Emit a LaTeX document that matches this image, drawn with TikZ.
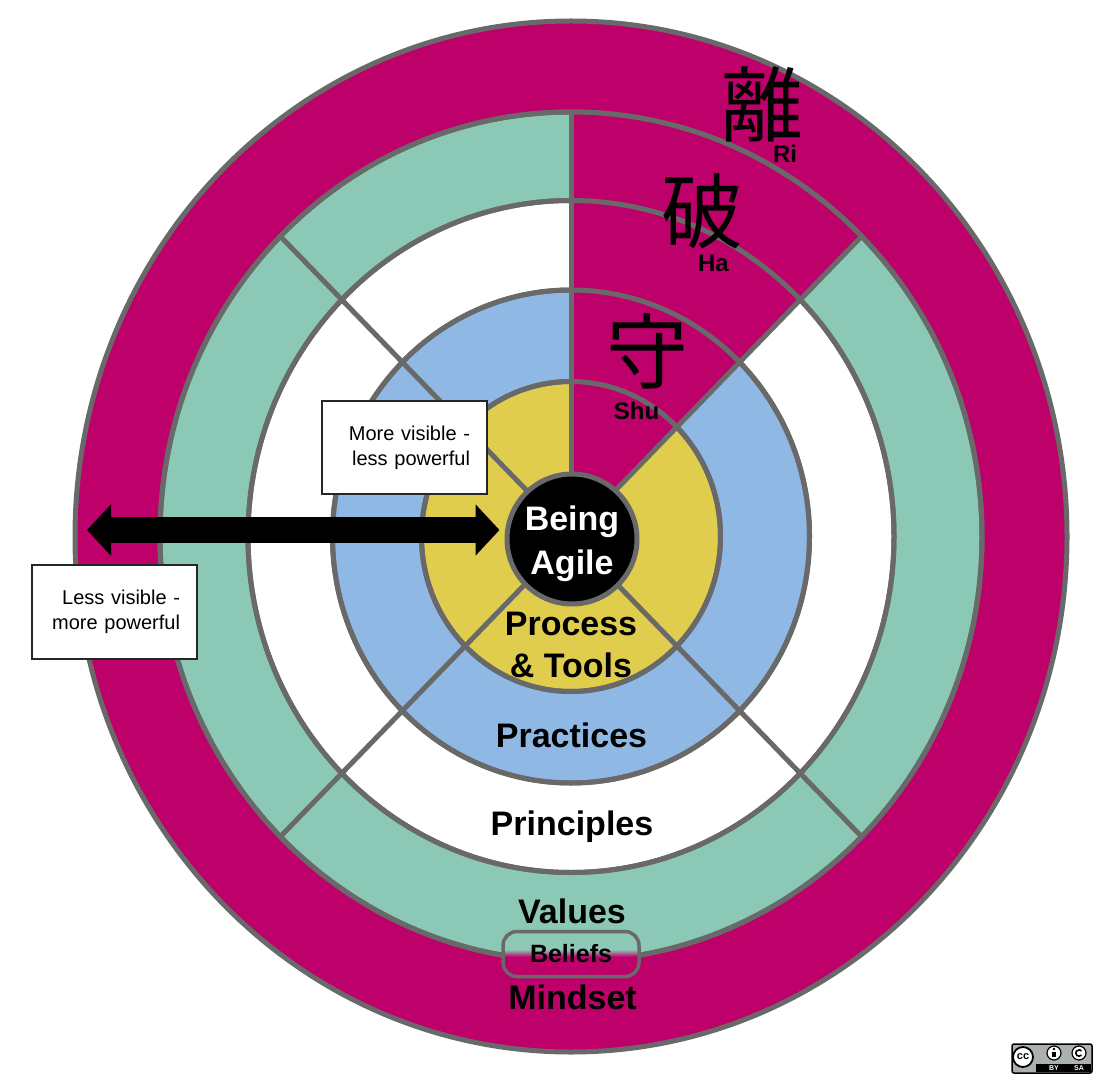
\documentclass[tikz,border=0pt]{standalone}
\usepackage{fontspec}
\setmainfont{Liberation Sans}
\newfontfamily\cjkfont{Noto Sans CJK JP}
\usetikzlibrary{arrows.meta,shapes.geometric}
\definecolor{magentaC}{RGB}{190,0,107}
\definecolor{tealC}{RGB}{139,201,182}
\definecolor{blueC}{RGB}{143,185,228}
\definecolor{yellowC}{RGB}{224,205,78}
\definecolor{ringgray}{RGB}{105,105,105}
\definecolor{ccgray}{RGB}{170,178,171}
\pgfdeclareverticalshading{beliefshade}{100bp}{color(0bp)=(magentaC); color(47bp)=(magentaC); color(55bp)=(tealC); color(100bp)=(tealC)}
\begin{document}
\begin{tikzpicture}[x=1pt,y=-1pt,
  ring/.style={draw=ringgray, line width=5pt},
  biglbl/.style={font=\fontsize{34}{42}\selectfont\bfseries, inner sep=0pt, anchor=base},
  shalbl/.style={font=\fontsize{24}{28}\selectfont\bfseries, inner sep=0pt, anchor=base},
  kanji/.style={font=\cjkfont\fontsize{82}{86}\selectfont, inner sep=0pt},
  textbox/.style={draw=black!85, line width=2pt, fill=white, inner xsep=17pt, inner ysep=0pt,
    text width=131pt, align=right, font=\fontsize{20}{25}\selectfont},
  bigarrow/.style={line width=26pt, {Triangle[length=24pt,width=50pt]}-{Triangle[length=24pt,width=50pt]}}
]
\useasboundingbox (0,0) rectangle (1098,1075);
\coordinate (c) at (571,536.5);

% rings
\filldraw[ring, fill=magentaC] (c) ellipse [x radius=496, y radius=515.5];
\filldraw[ring, fill=tealC] (c) ellipse [x radius=411, y radius=424.5];
\filldraw[ring, fill=white] (c) ellipse [x radius=323, y radius=336];
\filldraw[ring, fill=blueC] (c) ellipse [x radius=238.5, y radius=246.5];
\filldraw[ring, fill=yellowC] (c) ellipse [x radius=149.5, y radius=155];

% Shu-Ha-Ri wedge
\begin{scope}[shift={(c)}]
  \begin{scope}
    \clip (0,0) -- (-90:600 and 622) -- (-67.5:700 and 725) -- (-45:600 and 622) -- cycle;
    \fill[magentaC] (0,0) ellipse [x radius=411, y radius=424.5];
  \end{scope}
  \draw[ring] (0,0) ellipse [x radius=411, y radius=424.5];
  \draw[ring] (0,0) ellipse [x radius=323, y radius=336];
  \draw[ring] (0,0) ellipse [x radius=238.5, y radius=246.5];
  \draw[ring] (0,0) ellipse [x radius=149.5, y radius=155];
  \foreach \a in {-90,-45,45,135,-135}
    \draw[ring] (\a:50 and 52) -- (\a:411 and 424.5);
\end{scope}

% centre
\node[circle, fill=black, draw=ringgray, line width=5pt, minimum size=130pt, inner sep=0pt] (agile) at (572,539) {};
\node[text=white, align=center, inner sep=0pt, font=\fontsize{34}{44}\selectfont\bfseries] (agiletxt) at (572,544) {Being\\Agile};

% arrow
\coordinate (arrowL) at (87,530);
\draw[bigarrow, shorten >=5pt] (arrowL) -- (agile.west |- arrowL);

% ring labels
\node[biglbl] (proc1) at (571,635) {Process};
\node[biglbl] (proc2) at (571,677) {\& Tools};
\node[biglbl] (practices) at (571.5,747) {Practices};
\node[biglbl] (principles) at (572,835) {Principles};
\node[biglbl] (values) at (572,923) {Values};
\node[biglbl] (mindset) at (572.5,1009) {Mindset};

% Shu Ha Ri
\node[kanji] (kshu) at (647,351) {守};
\node[kanji] (kha) at (702.5,211) {破};
\node[kanji] (kri) at (762.5,104) {離};
\node[shalbl] (shu) at (636.5,419) {Shu};
\node[shalbl] (ha) at (713.5,272) {Ha};
\node[shalbl] (ri) at (785,163) {Ri};

% text boxes
\node[textbox, minimum height=93pt] (morevis) at (404.5,447.5) {More visible -\\less powerful};
\node[textbox, minimum height=94pt] (lessvis) at (114.5,612) {Less visible -\\more powerful};

% beliefs
\node[draw=ringgray, line width=3.5pt, rounded corners=14pt, minimum width=136pt, minimum height=45pt,
  inner sep=0pt, shading=beliefshade, font=\fontsize{25}{28}\selectfont\bfseries] (beliefs) at (571,954) {Beliefs};

% CC badge
\node[draw=black, fill=ccgray, line width=1.5pt, rounded corners=2pt, minimum width=80pt, minimum height=29pt, inner sep=0pt] (ccbadge) at (1052,1058.5) {};
\fill[black] (1036,1064) rectangle (1091,1072);
\node[circle, draw=black, fill=white, line width=1.8pt, minimum size=20pt, inner sep=0pt,
  font=\fontsize{11}{11}\selectfont\bfseries] (cclogo) at (1023,1057) {cc};
\node[circle, draw=black, fill=white, line width=1.2pt, minimum size=14pt, inner sep=0pt] (bylogo) at (1054,1053) {};
\fill[black] (1054,1049) circle[radius=1.4];
\fill[black] (1052,1051.5) rectangle (1056,1056.5);
\node[circle, draw=black, fill=white, line width=1.2pt, minimum size=14pt, inner sep=0pt] (salogo) at (1079,1053) {};
\draw[black, line width=1.6pt] (1079,1053) ++(40:3.2) arc[start angle=40, end angle=320, radius=3.2];
\node[text=white, inner sep=0pt, font=\fontsize{7}{7}\selectfont\bfseries] (bytxt) at (1054,1068) {BY};
\node[text=white, inner sep=0pt, font=\fontsize{7}{7}\selectfont\bfseries] (satxt) at (1079,1068) {SA};
\end{tikzpicture}
\end{document}
